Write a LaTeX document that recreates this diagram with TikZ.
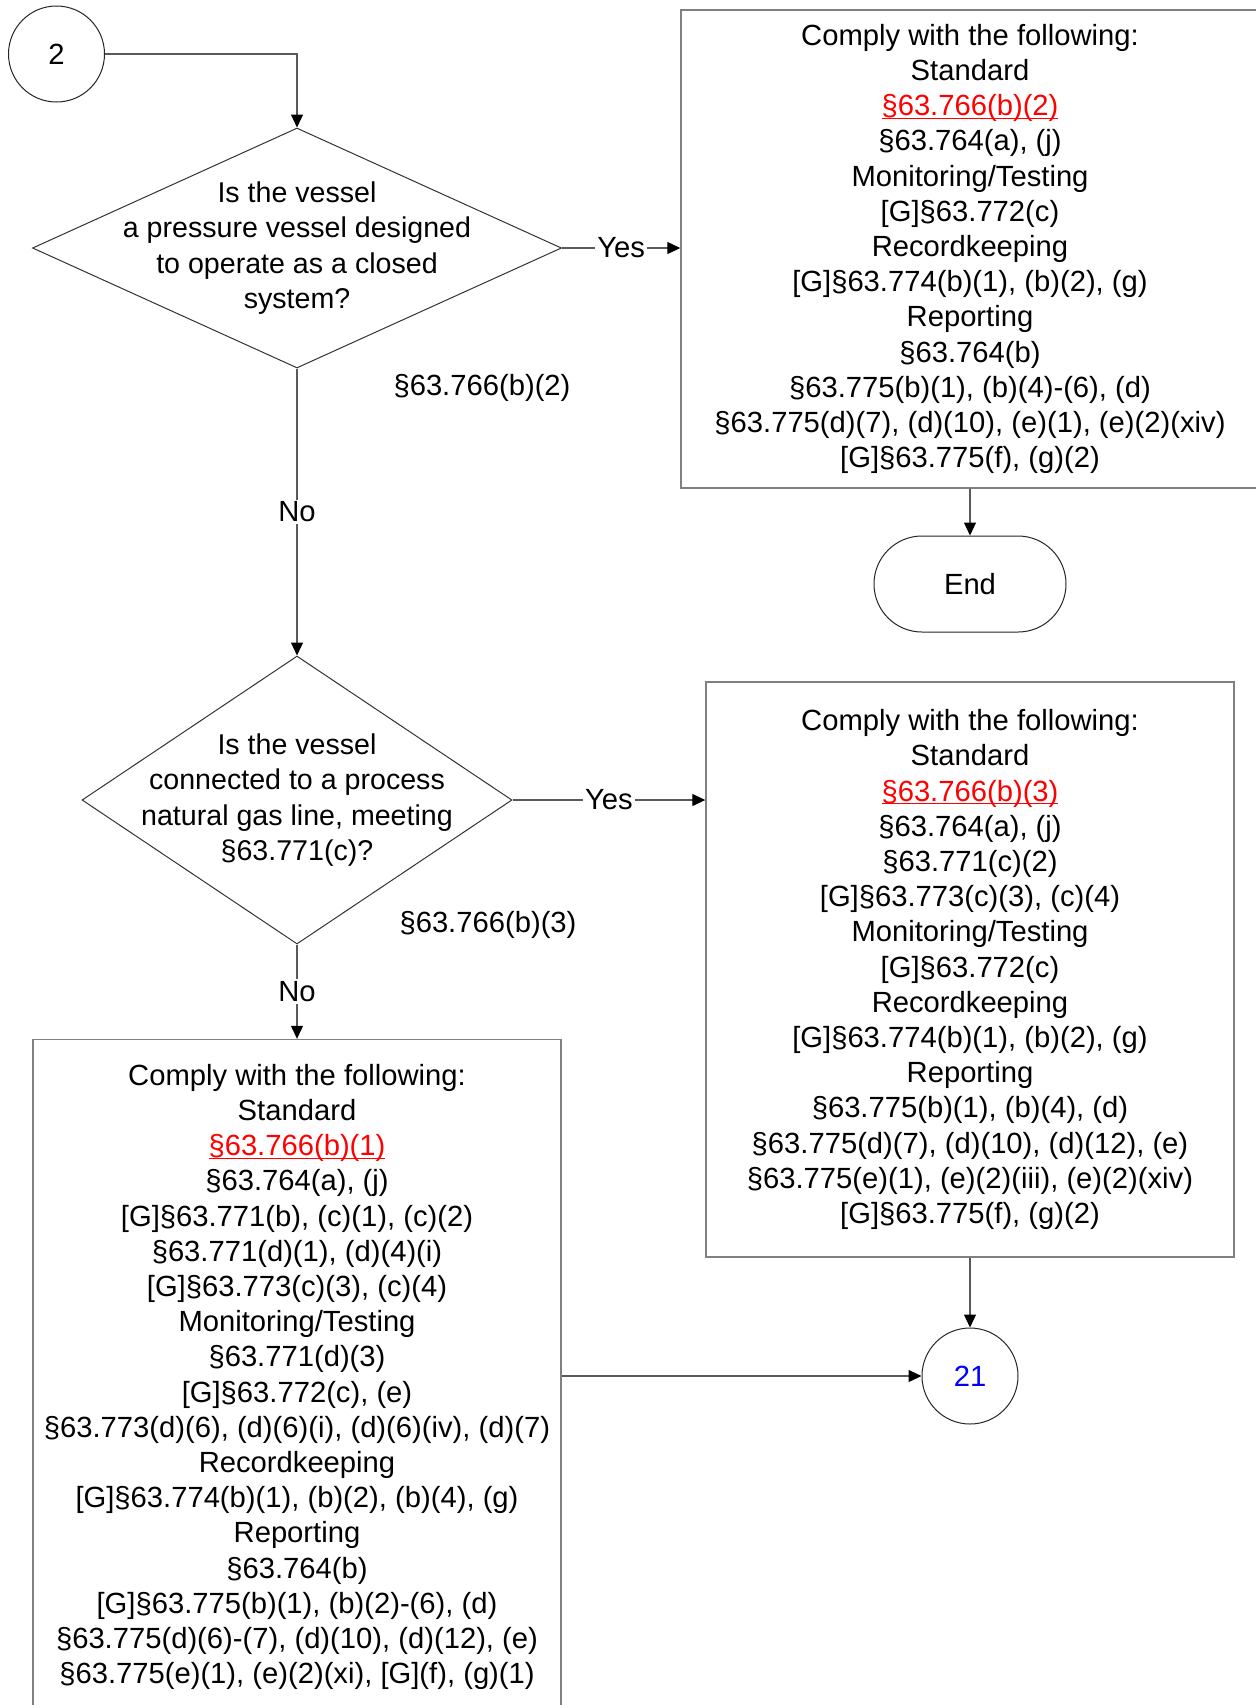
\documentclass[tikz,border=0pt]{standalone}
\usepackage{fontspec}
\setmainfont{Liberation Sans}
\usetikzlibrary{shapes.geometric,arrows.meta}

\tikzset{
  txt/.style={font=\fontsize{14.6pt}{17.6pt}\selectfont},
  conn/.style={shape=circle,draw=black!85,line width=0.5pt,minimum size=48pt,inner sep=0pt,txt},
  decision/.style={shape=diamond,draw=black!80,line width=0.5pt,inner sep=0pt},
  qtext/.style={align=center,font=\fontsize{14.3pt}{17.6pt}\selectfont},
  comply/.style={shape=rectangle,draw=black!50,line width=0.7pt,align=center,inner sep=0pt,txt},
  terminal/.style={shape=rectangle,rounded corners=24pt,draw=black!85,line width=0.5pt,minimum width=96pt,minimum height=48pt,txt},
  flow/.style={draw=black!65,line width=0.6pt,-{Triangle[length=6.5pt,width=6pt,black]}},
  answer/.style={fill=white,inner sep=1pt,txt},
  cite/.style={txt}
}
\newcommand{\stdref}[1]{\textcolor{red}{\sbox0{#1}\rlap{\rule[-1.6pt]{\wd0}{0.6pt}}#1}}

\begin{document}
\begin{tikzpicture}[x=0.5pt,y=-0.5pt]
\useasboundingbox (0,0) rectangle (1255,1705);
\node  (2) at (56.5,54) [conn] {2};
\node (q1) at (297,248) [decision,minimum width=264.5pt,minimum height=120pt,
  label={[qtext]center:{Is the vessel\\a pressure vessel designed\\to operate as a closed\\system?}}] {};
\node (comply1) at (970,249) [comply,minimum width=289pt,minimum height=239pt]
  {Comply with the following:\\Standard\\\stdref{§63.766(b)(2)}\\§63.764(a), (j)\\
   Monitoring/Testing\\{}[G]§63.772(c)\\Recordkeeping\\{}[G]§63.774(b)(1), (b)(2), (g)\\
   Reporting\\§63.764(b)\\§63.775(b)(1), (b)(4)-(6), (d)\\
   §63.775(d)(7), (d)(10), (e)(1), (e)(2)(xiv)\\{}[G]§63.775(f), (g)(2)};
\node (end) at (970,584) [terminal] {End};
\node (ref1) at (482,388) [cite] {§63.766(b)(2)};
\node (q2) at (297,800) [decision,minimum width=215pt,minimum height=144pt,
  label={[qtext]center:{Is the vessel\\connected to a process\\natural gas line, meeting\\§63.771(c)?}}] {};
\node (ref2) at (488,925) [cite] {§63.766(b)(3)};
\node (comply2) at (970,969.5) [comply,minimum width=264pt,minimum height=287.5pt]
  {Comply with the following:\\Standard\\\stdref{§63.766(b)(3)}\\§63.764(a), (j)\\
   §63.771(c)(2)\\{}[G]§63.773(c)(3), (c)(4)\\Monitoring/Testing\\{}[G]§63.772(c)\\
   Recordkeeping\\{}[G]§63.774(b)(1), (b)(2), (g)\\Reporting\\§63.775(b)(1), (b)(4), (d)\\
   §63.775(d)(7), (d)(10), (d)(12), (e)\\§63.775(e)(1), (e)(2)(iii), (e)(2)(xiv)\\
   {}[G]§63.775(f), (g)(2)};
\node (comply3) at (297,1377) [comply,minimum width=264pt,minimum height=337.5pt]
  {Comply with the following:\\Standard\\\stdref{§63.766(b)(1)}\\§63.764(a), (j)\\
   {}[G]§63.771(b), (c)(1), (c)(2)\\§63.771(d)(1), (d)(4)(i)\\{}[G]§63.773(c)(3), (c)(4)\\
   Monitoring/Testing\\§63.771(d)(3)\\{}[G]§63.772(c), (e)\\
   §63.773(d)(6), (d)(6)(i), (d)(6)(iv), (d)(7)\\Recordkeeping\\
   {}[G]§63.774(b)(1), (b)(2), (b)(4), (g)\\Reporting\\§63.764(b)\\
   {}[G]§63.775(b)(1), (b)(2)-(6), (d)\\§63.775(d)(6)-(7), (d)(10), (d)(12), (e)\\
   §63.775(e)(1), (e)(2)(xi), [G](f), (g)(1)};
\node (21) at (970,1376) [conn] {\textcolor{blue}{21}};
\draw [flow] (2) -| (q1);
\draw [flow] (q1) -- node [answer] (yes1) {Yes} (comply1.west |- q1);
\draw [flow] (comply1) -- (end);
\draw [flow] (q1) -- node [answer] (no1) {No} (q2);
\draw [flow] (q2) -- node [answer] (yes2) {Yes} (q2 -| comply2.west);
\draw [flow] (q2) -- node [answer] (no2) {No} (comply3);
\draw [flow] (comply2) -- (21);
\draw [flow] (comply3.east |- 21) -- (21);
\end{tikzpicture}
\end{document}
